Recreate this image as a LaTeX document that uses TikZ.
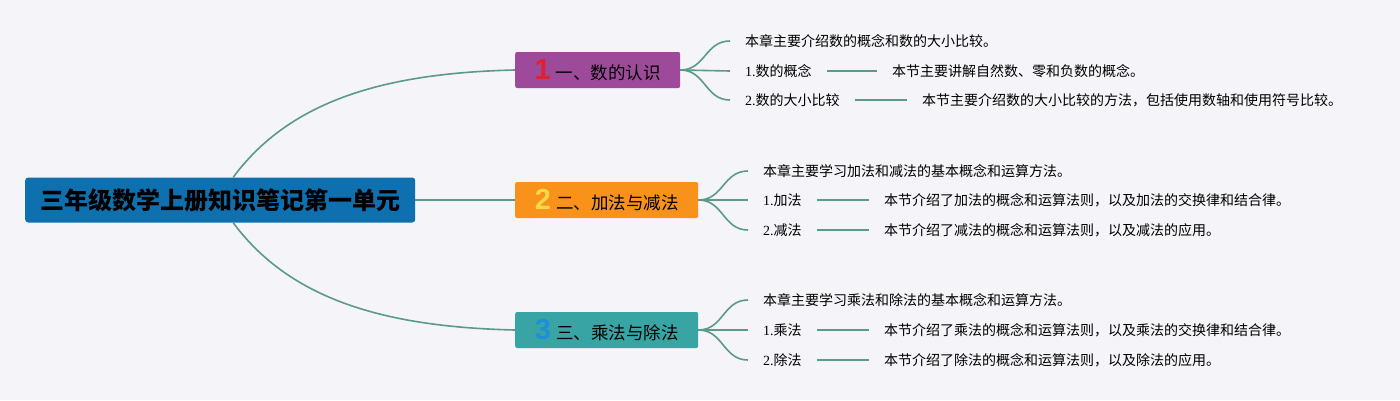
\documentclass[tikz,border=0pt]{standalone}
\usepackage{fontspec}
\setmainfont{Liberation Serif}
\newfontfamily\cjk{Noto Sans CJK SC}
\newfontfamily\numfont{Liberation Sans}
\usetikzlibrary{positioning}
\definecolor{bgcol}{HTML}{F4F4F9}
\definecolor{linecol}{HTML}{5B9A8B}
\definecolor{rootcol}{HTML}{0F70B0}
\definecolor{onecol}{HTML}{9E4A9B}
\definecolor{twocol}{HTML}{F8921A}
\definecolor{threecol}{HTML}{38A4A4}
\definecolor{numone}{HTML}{E0202E}
\definecolor{numtwo}{HTML}{F7D84A}
\definecolor{numthree}{HTML}{1E8FD8}
\tikzset{
  rootbox/.style={fill=rootcol,rounded corners=3pt,minimum width=390pt,minimum height=45pt,
    font=\cjk\bfseries\fontsize{24}{26}\selectfont,anchor=west},
  topicbox/.style={rounded corners=2pt,minimum height=36pt,font=\cjk\fontsize{17.5}{20}\selectfont,anchor=west},
  leaf/.style={inner sep=0pt,anchor=west,font=\cjk\fontsize{14}{16}\selectfont},
  link/.style={draw=linecol,line width=1.6pt},
  gap/.style={shorten <=15pt,shorten >=15pt}
}
\newcommand\topicnum[2]{\textcolor{#1}{\numfont\bfseries\fontsize{29}{29}\selectfont #2}\hspace{5pt}}
\begin{document}
\begin{tikzpicture}[x=1pt,y=-1pt]
\fill[bgcol] (0,0) rectangle (1400,400);
\useasboundingbox (0,0) rectangle (1400,400);
% root and topics
\node[rootbox] (root) at (25,200) {三年级数学上册知识笔记第一单元};
\node[topicbox,fill=onecol,minimum width=165pt] (t1) at (515,70) {\topicnum{numone}{1}一、数的认识};
\node[topicbox,fill=twocol,minimum width=183pt] (t2) at (515,200) {\topicnum{numtwo}{2}二、加法与减法};
\node[topicbox,fill=threecol,minimum width=183pt] (t3) at (515,330) {\topicnum{numthree}{3}三、乘法与除法};
\draw[link] ([xshift=13pt]root.north) .. controls +(57,-77) and +(-130,3) .. (t1.west);
\draw[link] (root.east) -- (t2.west);
\draw[link] ([xshift=13pt]root.south) .. controls +(57,77) and +(-130,-3) .. (t3.west);
% leaves of topic 1
\node[leaf] (a0) at (745,41) {本章主要介绍数的概念和数的大小比较。};
\node[leaf] (a1) at (745,71) {{\rmfamily 1.}数的概念};
\node[leaf,right=80pt of a1] (a1d) {本节主要讲解自然数、零和负数的概念。};
\node[leaf] (a2) at (745,100) {{\rmfamily 2.}数的大小比较};
\node[leaf,right=82pt of a2] (a2d) {本节主要介绍数的大小比较的方法，包括使用数轴和使用符号比较。};
% leaves of topic 2
\node[leaf] (b0) at (763,171) {本章主要学习加法和减法的基本概念和运算方法。};
\node[leaf] (b1) at (763,200) {{\rmfamily 1.}加法};
\node[leaf,right=82pt of b1] (b1d) {本节介绍了加法的概念和运算法则，以及加法的交换律和结合律。};
\node[leaf] (b2) at (763,230) {{\rmfamily 2.}减法};
\node[leaf,right=82pt of b2] (b2d) {本节介绍了减法的概念和运算法则，以及减法的应用。};
% leaves of topic 3
\node[leaf] (c0) at (763,300) {本章主要学习乘法和除法的基本概念和运算方法。};
\node[leaf] (c1) at (763,330) {{\rmfamily 1.}乘法};
\node[leaf,right=82pt of c1] (c1d) {本节介绍了乘法的概念和运算法则，以及乘法的交换律和结合律。};
\node[leaf] (c2) at (763,360) {{\rmfamily 2.}除法};
\node[leaf,right=82pt of c2] (c2d) {本节介绍了除法的概念和运算法则，以及除法的应用。};
\foreach \t/\l in {1/a,2/b,3/c}{
  \foreach \i in {0,1,2}
    \draw[link] (t\t.east) .. controls +(25,0) and +(-25,0) .. ([xshift=-15pt]\l\i.west);
  \foreach \i in {1,2}
    \draw[link,gap] (\l\i.east) -- (\l\i.east -| \l\i d.west);
}
\end{tikzpicture}
\end{document}
